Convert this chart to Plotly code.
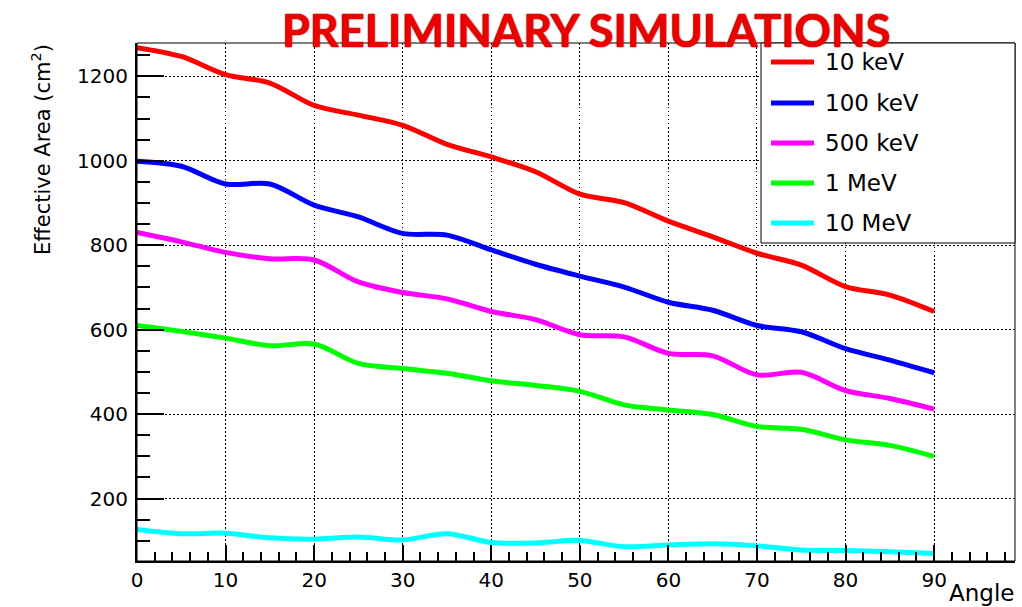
import plotly.graph_objects as go

# Effective area versus incidence angle, one curve per photon energy
angles = [0, 5, 10, 15, 20, 25, 30, 35, 40, 45, 50, 55, 60, 65, 70, 75, 80, 85, 90]

area_10keV = [1268, 1247, 1204, 1184, 1131, 1108, 1084, 1039, 1009, 974, 921, 901, 857, 820, 781, 753, 702, 682, 643]
area_100keV = [999, 987, 945, 945, 895, 867, 828, 824, 789, 755, 727, 701, 665, 646, 610, 595, 555, 528, 498]
area_500keV = [830, 808, 783, 768, 765, 713, 688, 673, 643, 624, 588, 583, 544, 538, 493, 499, 456, 437, 412]
area_1MeV = [610, 596, 580, 562, 566, 520, 508, 497, 479, 468, 454, 422, 410, 399, 371, 364, 339, 326, 300]
area_10MeV = [127, 117, 118, 107, 104, 109, 102, 117, 96, 95, 101, 86, 90, 93, 88, 78, 77, 74, 70]

series_names = ["10 keV", "100 keV", "500 keV", "1 MeV", "10 MeV"]
series_values = [area_10keV, area_100keV, area_500keV, area_1MeV, area_10MeV]
series_colors = ["#ff0000", "#0000ff", "#ff00ff", "#00ff00", "#00ffff"]

title_text = "PRELIMINARY SIMULATIONS"
x_title = "Angle"
y_title = "Effective Area (cm<sup>2</sup>)"

# page geometry (pixels)
W, H = 1022, 607
ML, MR, MT, MB = 137, 7, 43, 46
PW, PH = W - ML - MR, H - MT - MB


def px_x(p):
    """horizontal pixel -> paper coordinate"""
    return (p - ML) / PW


def px_y(p):
    """vertical pixel (from top) -> paper coordinate"""
    return (H - MB - p) / PH


FONT = "DejaVu Sans"

fig = go.Figure()
for name, vals, color in zip(series_names, series_values, series_colors):
    fig.add_trace(go.Scatter(
        x=angles, y=vals, mode="lines", name=name,
        line=dict(color=color, width=5, shape="spline", smoothing=0.9),
        showlegend=False,
    ))

grid_style = dict(showgrid=True, gridcolor="black", gridwidth=1, griddash="1.5px,2.5px")

fig.update_xaxes(
    range=[0, 99.13], tick0=0, dtick=10,
    showline=True, linecolor="black", linewidth=2, zeroline=False,
    ticks="inside", ticklen=16, tickwidth=2, tickcolor="black",
    tickfont=dict(family=FONT, size=20, color="black"),
    minor=dict(tick0=0, dtick=2, ticks="inside", ticklen=9, tickwidth=1.5,
               tickcolor="black", showgrid=False),
    **grid_style,
)
fig.update_yaxes(
    range=[52.2, 1278.9], tick0=0, dtick=200,
    showline=True, linecolor="black", linewidth=2, zeroline=False,
    ticks="inside", ticklen=27, tickwidth=2, tickcolor="black",
    ticklabelstandoff=3,
    tickfont=dict(family=FONT, size=20, color="black"),
    minor=dict(tick0=0, dtick=50, ticks="inside", ticklen=13, tickwidth=1.5,
               tickcolor="black", showgrid=False),
    **grid_style,
)

shapes = [
    # thin frame around the plotting area
    dict(type="rect", xref="paper", yref="paper", x0=0, x1=1, y0=0, y1=1,
         line=dict(color="black", width=1), fillcolor="rgba(0,0,0,0)", layer="above"),
    # legend box
    dict(type="rect", xref="paper", yref="paper",
         x0=px_x(761), x1=1, y0=px_y(243), y1=1,
         line=dict(color="black", width=1), fillcolor="white", layer="above"),
]

annotations = [
    dict(text=title_text, xref="paper", yref="paper",
         x=px_x(585.5), y=px_y(30), xanchor="center", yanchor="middle",
         showarrow=False,
         font=dict(family="Lato", size=45, color="#ee0000", weight=700,
                   shadow="0 0 1.5px #8a0000, 0 0 1px #a00000")),
    dict(text=y_title, xref="paper", yref="paper",
         x=px_x(41), y=px_y(150), xanchor="center", yanchor="middle",
         textangle=-90, showarrow=False,
         font=dict(family=FONT, size=21, color="black")),
    dict(text=x_title, xref="paper", yref="paper",
         x=px_x(1016), y=px_y(593), xanchor="right", yanchor="middle",
         showarrow=False,
         font=dict(family=FONT, size=23, color="black")),
]

# legend entries: colour sample plus label
row_y = [62, 103, 143, 183, 223]
for name, color, ry in zip(series_names, series_colors, row_y):
    shapes.append(dict(type="line", xref="paper", yref="paper",
                       x0=px_x(771), x1=px_x(814), y0=px_y(ry), y1=px_y(ry),
                       line=dict(color=color, width=5), layer="above"))
    annotations.append(dict(text=name, xref="paper", yref="paper",
                            x=px_x(823), y=px_y(ry), xanchor="left", yanchor="middle",
                            showarrow=False,
                            font=dict(family=FONT, size=23, color="black")))

fig.update_layout(
    width=W, height=H,
    margin=dict(l=ML, r=MR, t=MT, b=MB, autoexpand=False),
    paper_bgcolor="white", plot_bgcolor="white",
    template="none",
    showlegend=False,
    shapes=shapes,
    annotations=annotations,
)

fig.write_html("out.html")
